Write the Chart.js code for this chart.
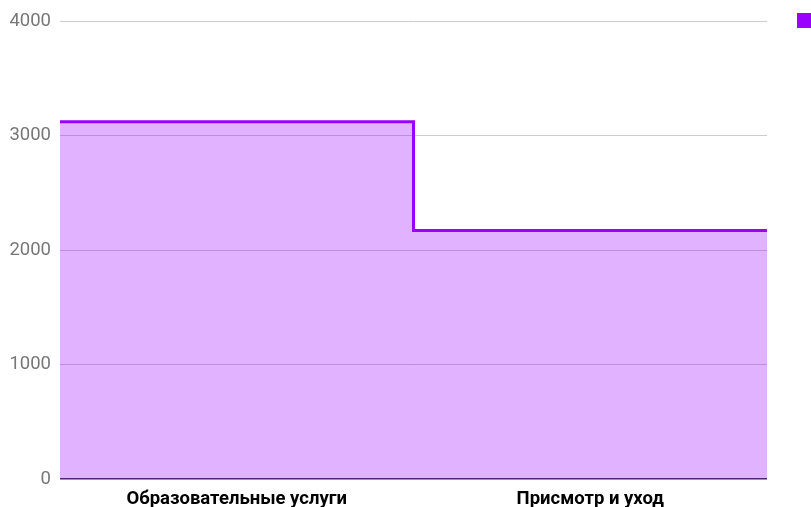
<!DOCTYPE html>
<html>
<head>
<meta charset="utf-8">
<script src="https://cdn.jsdelivr.net/npm/chart.js@4"></script>
<style>
  html, body { margin: 0; padding: 0; background: #fff; overflow: hidden; }
  #wrap { width: 811px; height: 507px; position: relative; }
</style>
</head>
<body>
<div id="wrap"><canvas id="chart"></canvas></div>
<script>
var categories = ['Образовательные услуги', 'Присмотр и уход'];
var values = [3120, 2170];
var yTicks = [0, 1000, 2000, 3000, 4000];

var lineColor = '#9900ff';

// stepped series: each category holds its value across its own band
var points = [];
for (var i = 0; i < values.length; i++) {
    points.push({ x: i, y: values[i] });
}
points.push({ x: values.length, y: values[values.length - 1] });

// small legend swatch at the top right
var legendSwatch = {
    id: 'legendSwatch',
    afterDraw: function(chart) {
        var ctx = chart.ctx;
        ctx.save();
        ctx.fillStyle = lineColor;
        ctx.fillRect(797, 13, 14, 15);
        ctx.restore();
    }
};

new Chart(document.getElementById('chart'), {
    type: 'line',
    data: {
        datasets: [{
            label: 'Сумма',
            data: points,
            stepped: 'before',
            borderColor: lineColor,
            borderWidth: 3,
            backgroundColor: 'rgba(153,0,255,0.3)',
            fill: 'origin',
            pointRadius: 0,
            pointHoverRadius: 0
        }]
    },
    options: {
        responsive: true,
        maintainAspectRatio: false,
        animation: false,
        layout: { padding: { top: 21, right: 44, left: 0, bottom: 0 } },
        plugins: {
            legend: { display: false },
            tooltip: { enabled: false }
        },
        scales: {
            x: {
                type: 'linear',
                min: 0,
                max: categories.length,
                grid: { display: false, drawTicks: false },
                border: { display: false },
                afterBuildTicks: function(scale) {
                    scale.ticks = categories.map(function(c, i) { return { value: i + 0.5 }; });
                },
                afterFit: function(scale) { scale.height = 28; },
                ticks: {
                    autoSkip: false,
                    maxRotation: 0,
                    padding: 9,
                    color: '#000',
                    font: { family: 'Roboto', size: 18.5, weight: 'bold' },
                    callback: function(v) { return categories[Math.floor(v)]; }
                }
            },
            y: {
                min: 0,
                max: 4000,
                afterBuildTicks: function(scale) {
                    scale.ticks = yTicks.map(function(v) { return { value: v }; });
                },
                afterFit: function(scale) { scale.width = 60; },
                grid: {
                    color: function(ctx) { return ctx.tick.value === 0 ? '#333' : '#cccccc'; },
                    lineWidth: function(ctx) { return ctx.tick.value === 0 ? 1.5 : 1; },
                    drawTicks: false
                },
                border: { display: false },
                ticks: {
                    padding: 9,
                    color: '#777777',
                    font: { family: 'Roboto', size: 18.5 },
                    callback: function(v) { return String(v); }
                }
            }
        }
    },
    plugins: [legendSwatch]
});
</script>
</body>
</html>
